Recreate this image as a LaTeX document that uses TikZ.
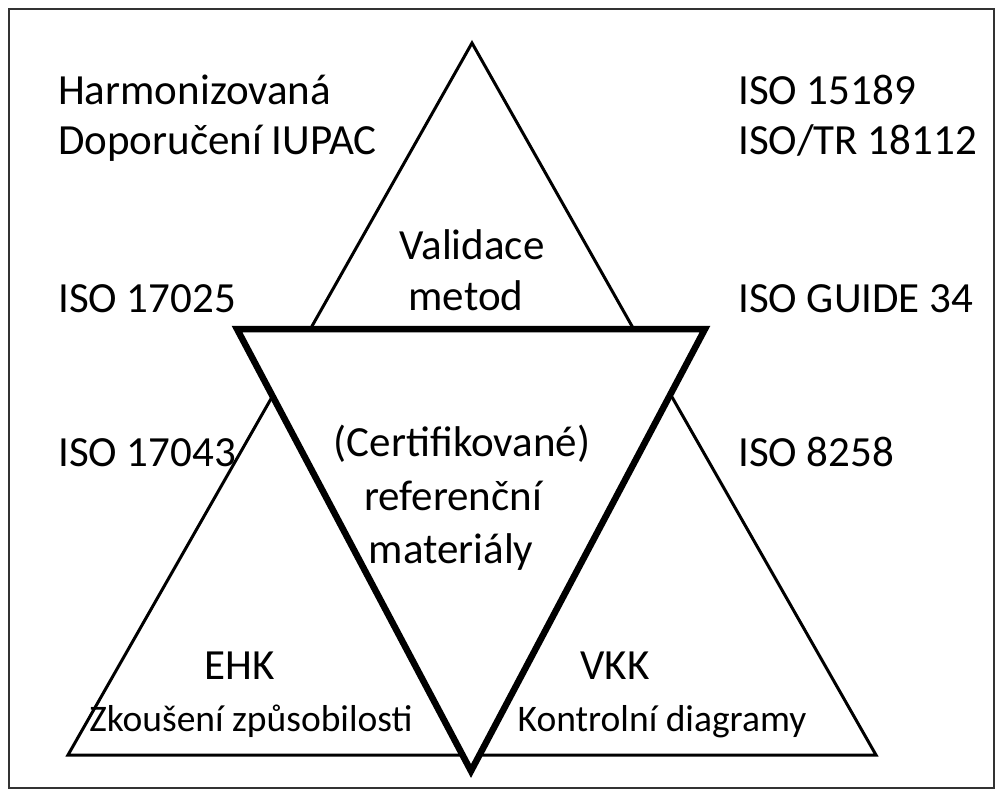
\documentclass[tikz,border=0pt]{standalone}
\usepackage{fontspec}
\setmainfont{Carlito}
\usepackage{tikz}
\usetikzlibrary{positioning}
\tikzstyle{lbl} = [draw=none, inner sep=0, font=\fontsize{43}{52}\selectfont]
\tikzstyle{sublbl} = [draw=none, inner sep=0, font=\fontsize{37.5}{45}\selectfont]
\tikzstyle{tri} = [draw=black, line width=3]
\tikzstyle{midtri} = [draw=black, fill=white, line width=6.5]

\begin{document}
\begin{tikzpicture}[x=1pt, y=-1pt]
\useasboundingbox (0,0) rectangle (997,792);
\draw [line width=2, draw=black!80] (9,9) rectangle (994,788);
% upright triangles, their inner ends lie under the middle one
\draw [tri] (307,335) -- (472,43) -- (637,335);
\draw [tri] (276,390) -- (68,755) -- (876,755) -- (668,390);
% inverted one in the middle
\draw [midtri] (237,329) -- (705,329) -- (471,771) -- cycle;

\node [lbl, anchor=base west] (harm) at (58,105) {Harmonizovaná};
\node [lbl, anchor=base west] (iupac) at (58,154) {Doporučení IUPAC};
\node [lbl, anchor=base west] (iso15189) at (738,105) {ISO 15189};
\node [lbl, anchor=base west] (isotr) at (738,154) {ISO/TR 18112};
\node [lbl, anchor=base west] (iso17025) at (58,312) {ISO 17025};
\node [lbl, anchor=base west] (guide) at (738,312) {ISO GUIDE 34};
\node [lbl, anchor=base west] (iso17043) at (58,466) {ISO 17043};
\node [lbl, anchor=base west] (iso8258) at (738,466) {ISO 8258};

\node [lbl, anchor=base] (valid) at (472,259) {Validace};
\node [lbl, anchor=base] (metod) at (466,310) {metod};

\node [lbl, anchor=base] (cert) at (462,456) {(Certifikované)};
\node [lbl, anchor=base] (refer) at (453,510) {referenční};
\node [lbl, anchor=base] (mater) at (451,563) {materiály};

\node [lbl, anchor=base] (ehk) at (240,679) {EHK};
\node [sublbl, anchor=base] (zkous) at (251,731) {Zkoušení způsobilosti};
\node [lbl, anchor=base] (vkk) at (615,679) {VKK};
\node [sublbl, anchor=base] (kontr) at (662,731) {Kontrolní diagramy};
\end{tikzpicture}
\end{document}
